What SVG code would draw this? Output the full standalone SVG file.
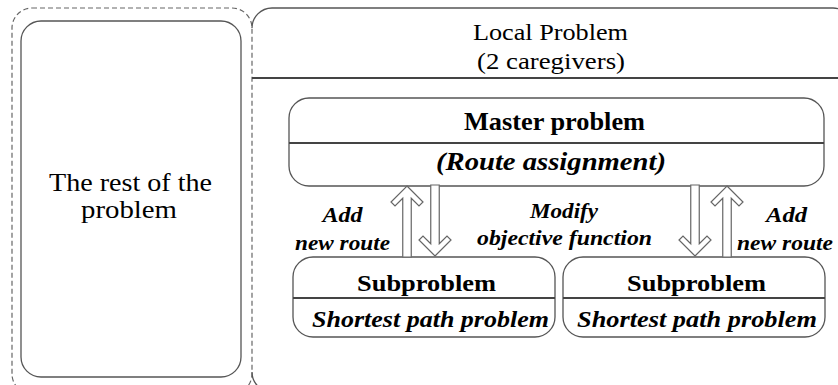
<svg xmlns="http://www.w3.org/2000/svg" width="838" height="385" viewBox="0 0 838 385">
  <style>
    .box { fill: #fff; stroke: #555; stroke-width: 1.3; }
    .rule { stroke: #444; stroke-width: 2.2; }
    .dash { fill: none; stroke: #666; stroke-width: 1.2; stroke-dasharray: 5 3; }
    .arrow { fill: #fff; stroke: #666; stroke-width: 1.2; stroke-linejoin: miter; }
    .t { fill: #000; text-anchor: middle; font-family: "Liberation Serif", "Times New Roman", "DejaVu Serif", serif; }
    .big { font-size: 25.5px; }
    .plain { font-size: 23.5px; }
    .head { font-size: 24.5px; font-weight: bold; }
    .headi { font-size: 24.5px; font-weight: bold; font-style: italic; }
    .bold { font-size: 23px; font-weight: bold; }
    .bi { font-size: 23px; font-weight: bold; font-style: italic; }
    .lbl { font-size: 21px; font-weight: bold; font-style: italic; }
  </style>
  <defs>
    <!-- hollow block arrow pointing up, tip at origin -->
    <path id="hollow-arrow" d="M0,0 L16,16 L12,20 L4.25,12.25 L4.25,71 L-4.25,71 L-4.25,12.25 L-12,20 L-16,16 Z"/>
  </defs>

  <!-- outer dashed frame around the rest of the problem -->
  <rect class="dash" x="12" y="8" width="240" height="386" rx="20" ry="20"/>

  <g id="rest">
    <rect class="box" x="21" y="21" width="220" height="356" rx="20" ry="20"/>
    <text class="t big" x="130.5" y="191" textLength="163" lengthAdjust="spacingAndGlyphs">The rest of the</text>
    <text class="t big" x="129" y="218" textLength="96" lengthAdjust="spacingAndGlyphs">problem</text>
  </g>

  <g id="local">
    <path d="M252,28 A20,20 0 0 1 272,8 L833,8 A20,20 0 0 1 853,28 M252,372 A20,20 0 0 0 272,392" fill="none" stroke="#555" stroke-width="1.3"/>
    <line class="rule" x1="252" y1="78" x2="838" y2="78"/>
    <text class="t plain" x="550.5" y="40" textLength="155" lengthAdjust="spacingAndGlyphs">Local Problem</text>
    <text class="t plain" x="551" y="69" textLength="148" lengthAdjust="spacingAndGlyphs">(2 caregivers)</text>
  </g>

  <g id="master">
    <rect class="box" x="289" y="98" width="535" height="88" rx="20" ry="20"/>
    <line class="rule" x1="289" y1="143" x2="824" y2="143"/>
    <text class="t head" x="554.5" y="130" textLength="181" lengthAdjust="spacingAndGlyphs">Master problem</text>
    <text class="t headi" x="551" y="170" textLength="230" lengthAdjust="spacingAndGlyphs">(Route assignment)</text>
  </g>

  <g id="sub-left">
    <rect class="box" x="293" y="257" width="262" height="80" rx="20" ry="20"/>
    <line class="rule" x1="293" y1="298" x2="555" y2="298"/>
    <text class="t bold" x="426.5" y="291" textLength="139" lengthAdjust="spacingAndGlyphs">Subproblem</text>
    <text class="t bi" x="430.5" y="327" textLength="237" lengthAdjust="spacingAndGlyphs">Shortest path problem</text>
  </g>

  <g id="sub-right">
    <rect class="box" x="563" y="257" width="262" height="80" rx="20" ry="20"/>
    <line class="rule" x1="563" y1="298" x2="825" y2="298"/>
    <text class="t bold" x="696.5" y="291" textLength="139" lengthAdjust="spacingAndGlyphs">Subproblem</text>
    <text class="t bi" x="697" y="327" textLength="240" lengthAdjust="spacingAndGlyphs">Shortest path problem</text>
  </g>

  <g id="connectors">
    <use href="#hollow-arrow" class="arrow" transform="translate(407,186)"/>
    <use href="#hollow-arrow" class="arrow" transform="translate(435,256) scale(1,-1)"/>
    <use href="#hollow-arrow" class="arrow" transform="translate(695,256) scale(1,-1)"/>
    <use href="#hollow-arrow" class="arrow" transform="translate(727,186)"/>
    <text class="t lbl" x="342.5" y="222" textLength="40" lengthAdjust="spacingAndGlyphs">Add</text>
    <text class="t lbl" x="342.5" y="250" textLength="95" lengthAdjust="spacingAndGlyphs">new route</text>
    <text class="t lbl" x="564" y="218" textLength="68" lengthAdjust="spacingAndGlyphs">Modify</text>
    <text class="t lbl" x="564.5" y="245" textLength="175" lengthAdjust="spacingAndGlyphs">objective function</text>
    <text class="t lbl" x="786.5" y="222" textLength="41" lengthAdjust="spacingAndGlyphs">Add</text>
    <text class="t lbl" x="785" y="250" textLength="96" lengthAdjust="spacingAndGlyphs">new route</text>
  </g>
</svg>
